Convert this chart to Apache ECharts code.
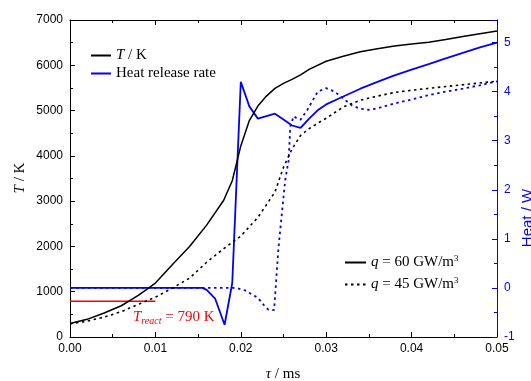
<!DOCTYPE html>
<html>
<head>
<meta charset="utf-8">
<script src="https://cdn.jsdelivr.net/npm/echarts@6/dist/echarts.min.js"></script>
<style>
  html, body { margin: 0; padding: 0; background: #fff; }
  #chart { width: 531px; height: 381px; }
</style>
</head>
<body>
<div id="chart"></div>
<script>
// temperature, q = 60 GW/m3 (solid black)
var tauT60 = [0, 0.002, 0.004, 0.006, 0.008, 0.010, 0.012, 0.014, 0.016, 0.018, 0.019, 0.020, 0.021, 0.022, 0.023, 0.024, 0.025, 0.026, 0.027, 0.028, 0.030, 0.032, 0.034, 0.036, 0.038, 0.040, 0.042, 0.044, 0.046, 0.048, 0.050];
var T60 = [300, 390, 530, 690, 920, 1190, 1600, 2000, 2470, 3020, 3450, 4220, 4780, 5100, 5320, 5490, 5600, 5690, 5790, 5910, 6090, 6200, 6300, 6365, 6425, 6470, 6510, 6570, 6635, 6695, 6755];

// temperature, q = 45 GW/m3 (dotted black)
var tauT45 = [0, 0.002, 0.004, 0.006, 0.008, 0.010, 0.012, 0.014, 0.016, 0.018, 0.020, 0.022, 0.024, 0.025, 0.026, 0.027, 0.028, 0.029, 0.030, 0.032, 0.034, 0.036, 0.038, 0.040, 0.042, 0.044, 0.046, 0.048, 0.050];
var T45 = [290, 350, 440, 560, 720, 880, 1080, 1300, 1650, 1950, 2230, 2640, 3200, 3750, 4150, 4450, 4600, 4720, 4830, 5080, 5230, 5320, 5400, 5450, 5490, 5530, 5570, 5610, 5650];

// heat release rate, q = 60 (solid blue)
var tauH60 = [0, 0.005, 0.010, 0.0155, 0.016, 0.017, 0.0181, 0.019, 0.020, 0.021, 0.022, 0.023, 0.024, 0.025, 0.026, 0.027, 0.028, 0.029, 0.030, 0.032, 0.034, 0.036, 0.038, 0.040, 0.042, 0.044, 0.046, 0.048, 0.050];
var H60 = [0, 0, 0, 0, -0.04, -0.22, -0.75, 0.1, 4.2, 3.7, 3.45, 3.5, 3.55, 3.43, 3.31, 3.26, 3.45, 3.62, 3.74, 3.9, 4.06, 4.2, 4.33, 4.45, 4.56, 4.68, 4.79, 4.9, 5.0];

// heat release rate, q = 45 (dotted blue)
var tauH45 = [0, 0.010, 0.0195, 0.0205, 0.022, 0.0227, 0.0232, 0.0239, 0.0244, 0.0248, 0.0252, 0.0256, 0.0258, 0.0262, 0.0266, 0.027, 0.0278, 0.029, 0.030, 0.031, 0.032, 0.033, 0.034, 0.035, 0.036, 0.037, 0.038, 0.040, 0.042, 0.044, 0.046, 0.048, 0.050];
var H45 = [0, 0, 0, -0.05, -0.2, -0.35, -0.44, -0.45, 0.8, 1.5, 2.2, 2.6, 3.3, 3.5, 3.45, 3.43, 3.63, 4.0, 4.07, 4.0, 3.86, 3.72, 3.65, 3.63, 3.66, 3.71, 3.76, 3.84, 3.93, 4.0, 4.06, 4.13, 4.21];

// T_react line
var tauReact = [0, 0.01];
var Treact = [790, 790];

var xTicks = { min: 0, max: 0.05, interval: 0.01 };
var yLeftTicks = { min: 0, max: 7000, interval: 1000 };
var yRightTicks = { min: -1, max: 5.46, interval: 1 };

var SANS = 'Liberation Sans, Arial, sans-serif';
var SERIF = 'Liberation Serif, Times New Roman, serif';
var BLUE = '#0000ff';

function pairs(xs, ys) {
  return xs.map(function (x, i) { return [x, ys[i]]; });
}

var rich = {
  i: { fontFamily: SERIF, fontStyle: 'italic', fontSize: 15, color: '#000', lineHeight: 14 },
  n: { fontFamily: SERIF, fontSize: 15, color: '#000', lineHeight: 14 },
  sup: { fontFamily: SERIF, fontSize: 9, color: '#000', verticalAlign: 'top', padding: [0, 0, 8, 0] }
};

var legendText = {
  'T / K': '{i|T}{n| / K}',
  'Heat release rate': '{n|Heat release rate}',
  'q60': '{i|q}{n| = 60 GW/m}{sup|3}',
  'q45': '{i|q}{n| = 45 GW/m}{sup|3}'
};

function axisCommon(color) {
  return {
    axisLine: { show: true, onZero: false, lineStyle: { color: color, width: 1 } },
    axisTick: { show: true, inside: true, length: 5, lineStyle: { color: color } },
    minorTick: { show: true, splitNumber: 2, length: 3, lineStyle: { color: color } },
    splitLine: { show: false },
    minorSplitLine: { show: false }
  };
}

var chart = echarts.init(document.getElementById('chart'), null, { renderer: 'canvas' });

var legendBase = {
  orient: 'vertical',
  padding: 0,
  itemHeight: 14,
  formatter: function (name) { return legendText[name]; },
  textStyle: { rich: rich },
  itemStyle: { opacity: 0 },
  selectedMode: false
};

var option = {
  animation: false,
  backgroundColor: '#fff',
  grid: { left: 70, right: 34, top: 20, bottom: 44, containLabel: false },
  legend: [
    Object.assign({}, legendBase, {
      data: ['T / K', 'Heat release rate'],
      left: 90, top: 48, itemWidth: 20, itemGap: 3
    }),
    Object.assign({}, legendBase, {
      data: ['q60', 'q45'],
      left: 344, top: 254, itemWidth: 21, itemGap: 6
    })
  ],
  xAxis: [
    Object.assign({
      type: 'value',
      position: 'bottom',
      min: xTicks.min, max: xTicks.max, interval: xTicks.interval,
      axisLabel: {
        color: '#000', fontFamily: SANS, fontSize: 12, margin: 6,
        formatter: function (v) { return v.toFixed(2); }
      }
    }, axisCommon('#000')),
    Object.assign({
      type: 'value',
      position: 'top',
      min: xTicks.min, max: xTicks.max, interval: xTicks.interval,
      axisLabel: { show: false }
    }, axisCommon('#000'))
  ],
  yAxis: [
    Object.assign({
      type: 'value',
      position: 'left',
      min: yLeftTicks.min, max: yLeftTicks.max, interval: yLeftTicks.interval,
      axisLabel: {
        color: '#000', fontFamily: SANS, fontSize: 12, margin: 7,
        formatter: function (v) { return String(v); }
      }
    }, axisCommon('#000')),
    Object.assign({
      type: 'value',
      position: 'right',
      min: yRightTicks.min, max: yRightTicks.max, interval: yRightTicks.interval,
      axisLabel: {
        color: BLUE, fontFamily: SANS, fontSize: 12, margin: 7,
        formatter: function (v) { return Math.abs(v - Math.round(v)) < 1e-9 ? String(Math.round(v)) : ''; }
      }
    }, axisCommon(BLUE))
  ],
  series: [
    // legend-only entries
    { name: 'T / K', type: 'line', data: [], symbol: 'none', lineStyle: { color: '#000', width: 1.5 }, itemStyle: { color: '#000' } },
    { name: 'Heat release rate', type: 'line', data: [], symbol: 'none', lineStyle: { color: BLUE, width: 1.8 }, itemStyle: { color: BLUE } },
    {
      name: 'react', type: 'line', data: pairs(tauReact, Treact), symbol: 'none',
      lineStyle: { color: '#ff0000', width: 1.5 }, itemStyle: { color: '#ff0000' }, z: 1
    },
    {
      name: 'H45', type: 'line', yAxisIndex: 1, data: pairs(tauH45, H45), symbol: 'none',
      lineStyle: { color: BLUE, width: 1.8, type: [2.5, 3.5] }, itemStyle: { color: BLUE }
    },
    {
      name: 'H60', type: 'line', yAxisIndex: 1, data: pairs(tauH60, H60), symbol: 'none',
      lineStyle: { color: BLUE, width: 1.8 }, itemStyle: { color: BLUE }
    },
    {
      name: 'q45', type: 'line', data: pairs(tauT45, T45), symbol: 'none',
      lineStyle: { color: '#000', width: 1.6, type: [2.5, 3.5] }, itemStyle: { color: '#000' }
    },
    {
      name: 'q60', type: 'line', data: pairs(tauT60, T60), symbol: 'none',
      lineStyle: { color: '#000', width: 1.5 }, itemStyle: { color: '#000' }
    }
  ],
  graphic: [
    {
      type: 'text', x: 20, y: 178, rotation: Math.PI / 2,
      style: { text: '{i|T}{n| / K}', rich: rich, align: 'center', verticalAlign: 'middle' }
    },
    {
      type: 'text', x: 283, y: 374,
      style: { text: '{i|τ}{n| / ms}', rich: rich, align: 'center', verticalAlign: 'middle' }
    },
    {
      type: 'text', x: 528, y: 218, rotation: Math.PI / 2,
      style: { text: 'Heat / W', fill: BLUE, font: '15px ' + SANS, align: 'center', verticalAlign: 'middle' }
    },
    {
      type: 'text', x: 133, y: 317,
      style: {
        text: '{t|T}{s|react}{e| = 790 K}',
        align: 'left', verticalAlign: 'middle',
        rich: {
          t: { fontFamily: SERIF, fontStyle: 'italic', fontSize: 15, fill: '#ff0000', color: '#ff0000', lineHeight: 18 },
          s: { fontFamily: SERIF, fontStyle: 'italic', fontSize: 10, fill: '#ff0000', color: '#ff0000', verticalAlign: 'bottom', padding: [8, 0, 0, 0] },
          e: { fontFamily: SERIF, fontSize: 15, fill: '#ff0000', color: '#ff0000', lineHeight: 18 }
        }
      }
    }
  ]
};

chart.setOption(option);
</script>
</body>
</html>
